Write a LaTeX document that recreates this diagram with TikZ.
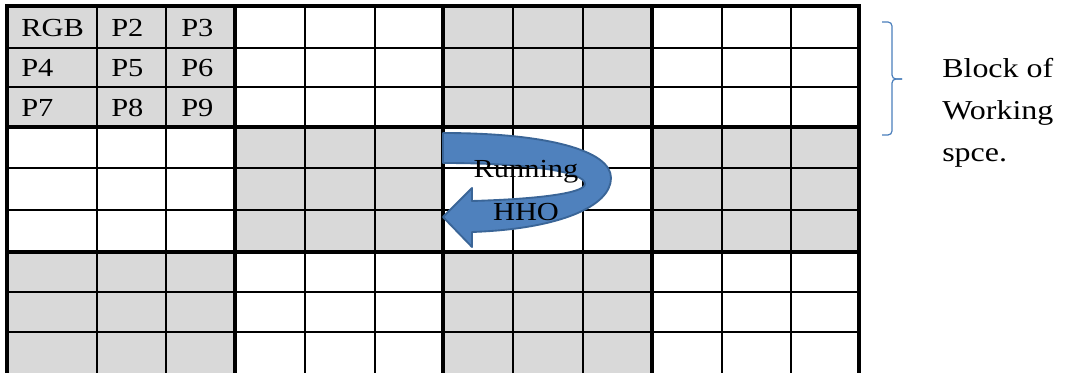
\documentclass[tikz,border=0pt]{standalone}
\usepackage{fontspec}
\setmainfont[FakeStretch=1.17]{Liberation Serif}
\usepackage{tikz}
\usetikzlibrary{positioning}
\definecolor{zelle}{HTML}{D9D9D9}
\definecolor{pfeil}{HTML}{4F81BD}
\definecolor{pfeilrand}{HTML}{3A6597}
\definecolor{klammer}{HTML}{4A7EBB}

\begin{document}
\begin{tikzpicture}[
        x=0.75pt, y=-0.75pt,
        gridline/.style={line width=1.1pt, line cap=rect},
        blockline/.style={line width=2.3pt, line cap=rect},
        lbl/.style={font=\fontsize{19.5}{23}\selectfont, anchor=base west, inner sep=0pt},
        side/.style={lbl, font=\fontsize{20.5}{24}\selectfont},
        turn/.style={fill=pfeil, draw=pfeilrand, line width=1.4pt, line join=round},
        bracket/.style={draw=klammer, line width=0.9pt, rounded corners=3pt}
      ]
      \useasboundingbox (0,0) rectangle (1067,373);
      \foreach \xa/\xb [count=\c] in {7/235,235/443,443/652,652/859}
        \foreach \ya/\yb [count=\r] in {6/127,127/252,252/373} {
          \pgfmathtruncatemacro{\parity}{mod(\c+\r,2)}
          \ifnum\parity=0 \fill[zelle] (\xa,\ya) rectangle (\xb,\yb); \fi
        }
      \foreach \x in {97,166,305,375,513,583,722,791}
        \draw[gridline] (\x,6) -- (\x,375);
      \foreach \y in {48,87,168,210,292,332}
        \draw[gridline] (7,\y) -- (859,\y);
      \foreach \x in {7,235,443,652,859}
        \draw[blockline] (\x,6) -- (\x,375);
      \foreach \y in {6,127,252}
        \draw[blockline] (7,\y) -- (859,\y);
      \foreach \t/\x/\y [count=\i] in {RGB/21/37,P2/111/37,P3/181/37,
                                       P4/21/77,P5/111/77,P6/181/77,
                                       P7/21/117,P8/111/117,P9/181/117}
        \node[lbl] (p\i) at (\x,\y) {\t};
      \path[turn] (443,133) .. controls (545,133) and (611,150) .. (611,178)
                  .. controls (611,206) and (560,229) .. (472,232)
                  -- (472,247) -- (443,217) -- (472,188) -- (472,201)
                  .. controls (540,199) and (585,193) .. (585,184)
                  .. controls (585,172) and (530,163) .. (443,163) -- cycle;
      \node[lbl, anchor=base] (run) at (526,178) {Running};
      \node[lbl, anchor=base] (hho) at (526,221) {HHO};
      \draw[bracket] (882,22) -- (892,22) -- (892,79) -- (902,79);
      \draw[bracket] (882,135) -- (892,135) -- (892,79) -- (902,79);
      \node[side] (blk) at (942,78) {Block of};
      \node[side] (wrk) at (942,120) {Working};
      \node[side] (spc) at (942,162) {spce.};
    \end{tikzpicture}
\end{document}
